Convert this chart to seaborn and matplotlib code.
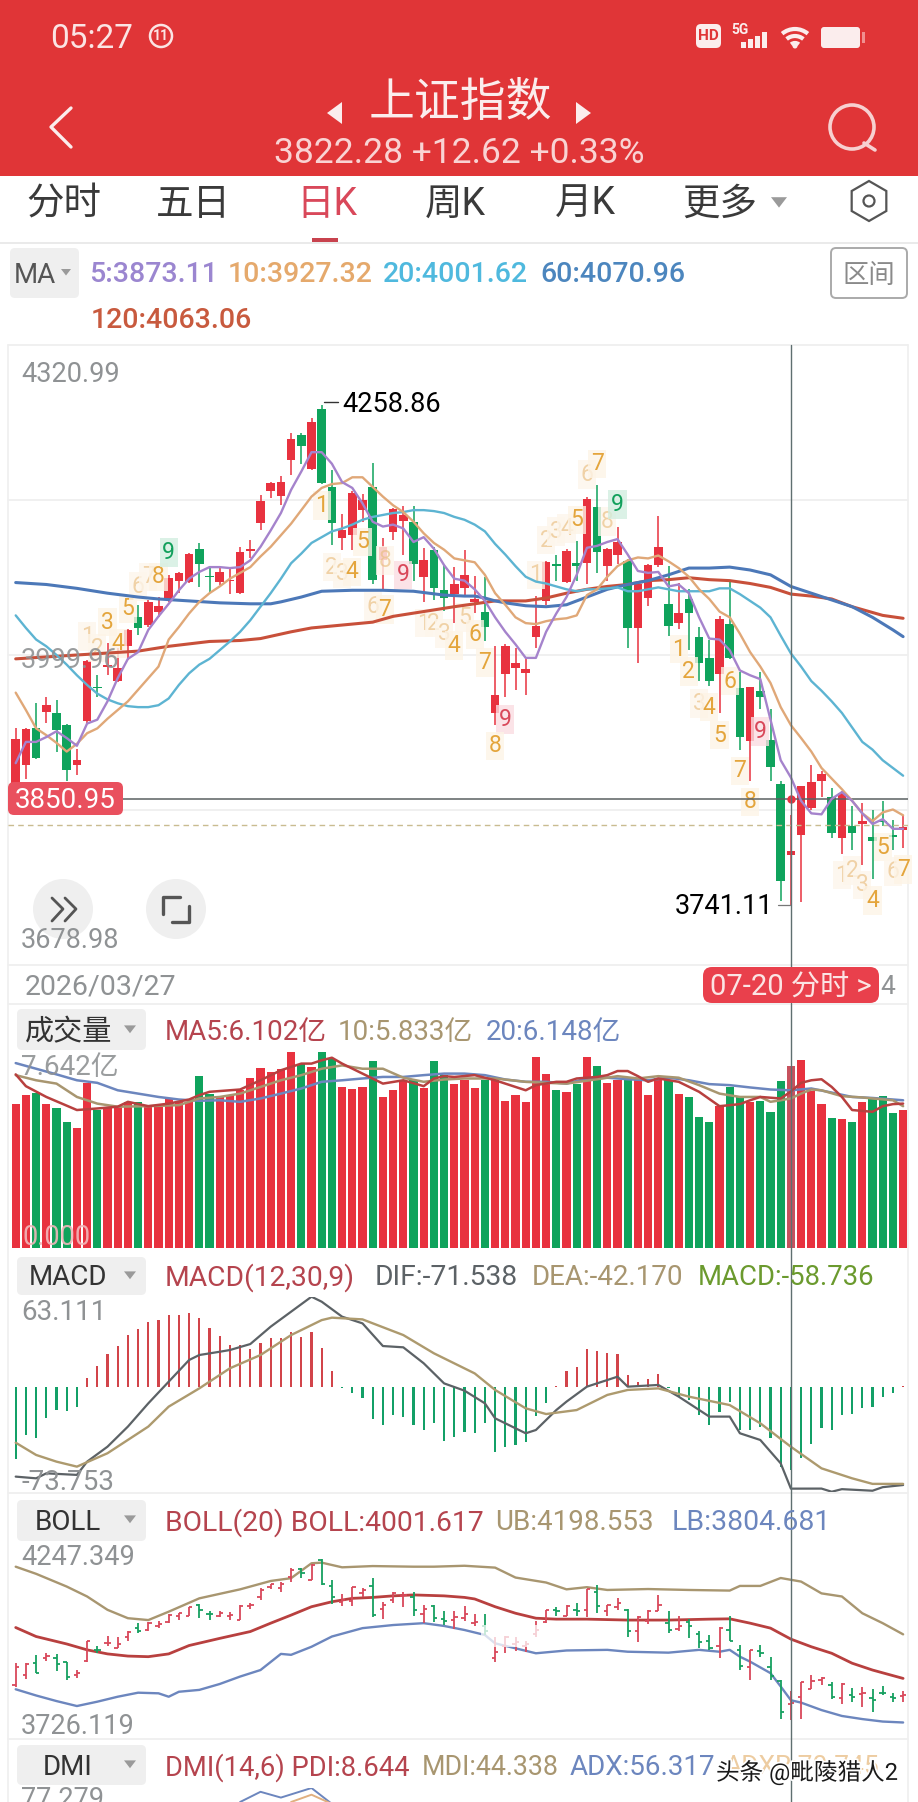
import numpy as np
import pandas as pd
import matplotlib
matplotlib.use("Agg")
import matplotlib.pyplot as plt
import matplotlib.patheffects as pe
from matplotlib.patches import Circle, FancyBboxPatch, Rectangle, Polygon, RegularPolygon, Arc
import seaborn as sns

# daily candles
highs = [3924,3924,3950,3957,3953,3929,3903,3995,3979,4012,4007,4027,4052,4057,4060,4083,4086,4106,4116,4091,4091,4090,
         4112,4119,4166,4179,4185,4230,4230,4245,4258.86,4192,4146,4170,4167,4199,4121,4152,4154,4154,4111,4112,4093,4091,
         4109,4082,4081,4009,4011,4007,3997,4061,4097,4104,4110,4118,4164,4176,4111,4133,4099,4077,4094,4144,4092,4075,
         4068,4029,4016,4040,4077,3982,3967,3982,3944,3870,3834,3864,3886,3880,3862,3859,3844,3847,3840,3849,3829,3834]
lows = [3846,3872,3892,3930,3900,3870,3876,3929,3956,3979,3972,3995,4021,4029,4039,4055,4064,4075,4070,4064,4072,4063,
        4063,4100,4129,4163,4155,4186,4198,4192,4177,4114,4109,4109,4138,4074,4067,4119,4104,4077,4055,4057,4046,4033,
        4060,4043,4014,3927,3956,3964,3959,4007,4052,4077,4075,4077,4073,4085,4077,4094,4007,3992,4051,4091,4020,4027,
        4005,3973,3968,3940,3996,3902,3870,3944,3869,3745,3741.11,3744,3840,3853,3810,3794,3798,3783,3768,3823,3798,3800]
opens = [3853,3886,3924,3941,3940,3927,3886,3932,3967,3988,3973,4009,4039,4031,4045,4057,4077,4076,4110,4082,4076,4077,
         4064,4108,4137,4170,4165,4202,4228,4193,4255,4174,4121,4124,4150,4174,4098,4127,4139,4138,4081,4109,4067,4063,
         4069,4055,4044,3940,3980,3987,3981,4019,4056,4094,4076,4095,4095,4153,4092,4104,4097,4028,4059,4093,4053,4033,
         4058,4019,3997,3980,4032,3966,3911,3963,3912,3866,3793,3814,3842,3870,3853,3811,3823,3825,3812,3828,3814,3819]
closes = [3913,3923,3893,3948,3922,3881,3891,3994,3966,3990,3987,4026,4028,4055,4051,4080,4085,4105,4094,4081,4086,4078,
          4107,4110,4159,4178,4179,4224,4216,4241,4178,4137,4129,4168,4161,4078,4112,4151,4145,4094,4098,4069,4059,4074,
          4083,4058,4029,3959,4009,3992,3986,4030,4096,4092,4108,4092,4162,4107,4110,4117,4028,4073,4093,4112,4030,4043,
          4043,3992,3973,4037,3997,3915,3967,3956,3884,3766,3797,3864,3868,3877,3816,3857,3816,3828,3807,3827,3812,3822.28]
ma5 = [3888,3910,3910,3915,3921,3914,3906,3929,3933,3952,3976,3996,4003,4026,4040,4053,4067,4079,4086,4091,4091,4090,
       4091,4098,4112,4129,4147,4171,4190,4210,4210,4198,4179,4173,4157,4138,4133,4135,4131,4117,4122,4110,4093,4079,
       4077,4068,4056,4039,4024,4011,3997,3997,4024,4043,4060,4083,4111,4113,4117,4120,4104,4087,4085,4086,4071,4073,
       4064,4039,4017,4016,4005,3984,3979,3975,3933,3891,3873.11,3849,3836,3835,3851,3858,3849,3836,3825,3830,3820,3820]
ma10 = [3961,3943,3924,3917,3909,3900,3908,3919,3924,3934,3943,3952,3964,3976,3988,4016,4029,4043,4055,4064,4071,4079,
        4085,4091,4102,4112,4124,4136,4150,4164,4173,4177,4178,4184,4184,4174,4164,4155,4148,4138,4126,4116,4109,4100,
        4098,4096,4083,4064,4052,4039,4033,4032,4035,4037,4038,4041,4062,4068,4081,4092,4098,4101,4100,4103,4097,4090,
        4081,4068,4058,4045,4039,4022,4003,3988,3971,3946,3927.32,3914,3900,3883,3872,3861,3849,3836,3828,3837,3840,3834]
ma20 = [4041,4028,4016,4009,4000,3990,3979,3969,3960,3954,3950,3947,3946,3946,3948,3955,3969,3981,3990,3996,4005,4014,
        4024,4036,4050,4064,4079,4095,4105,4116,4122,4128,4131,4135,4140,4143,4145,4147,4148,4150,4150,4149,4147,4143,
        4140,4135,4128,4115,4104,4092,4081,4076,4074,4071,4068,4066,4068,4068,4069,4070,4066,4066,4068,4070,4068,4066,
        4066,4066,4066,4069,4069,4063,4056,4049,4039,4020,4001.62,3988,3973,3963,3952,3940,3925,3910,3902,3891,3883,3875]
ma60_x = [0,3,6,9,12,14,17,20,23,25,26,28,30,33,36,39,42,44,45,46,47,48,50,52,54,56,58,60,62,64,66,68,70,72,74,76,78,80,82,84,86,87]
ma60 = [4075,4073,4069,4064,4060,4058,4056,4054,4053,4053,4055,4060,4066,4067,4067,4066,4062,4061,4061,4059,4056,4054,4051,4050,
        4052,4060,4068,4073,4077,4083,4090,4090,4091,4088,4083,4070.96,4064,4057,4050,4039,4026,4019]
ma120_x = [0,6,12,15,19,22,24,27,29,33,35,37,40,43,47,50,52,54,56,58,60,62,64,66,68,70,72,74,76,78,80,82,84,85,87]
ma120 = [3996,4000,4004,4009,4014,4015,4017,4024,4028,4032,4034,4040,4045,4050,4056,4056,4059,4064,4068,4071,4073,4077,4078,4080,
         4078,4077,4074,4070,4063.06,4061,4058,4050,4044,4041,4038]

# TD sequence digits: o = orange, f = faded orange, g = green nine, r = red nine
td_idx = [7,8,9,10,11,12,13,14,15,30,31,32,33,34,36.2,38,35,36.2,40,41,42,43,
          44,45,46,48,47,51,52,53,54,55,56,57,58,59,65,66,67,68,69,70,71,72,73,81,82,83,84,85,86,87]
td_price = [4019,4007,4034,4012,4048,4071,4081,4081,4106,4155,4091,4084,4086,4117,4098,4083,4050,4047,4033,4033,4022,4010,
            4039,4021,3992,3933,3906,4083,4119,4128,4131,4140,4187,4198,4138,4156,4006,3983,3950,3946,3917,3973,3880,3848,3921,
            3772,3777,3762,3746,3801,3776,3778]
td_text = "123456789" + "123458967" + "1234" + "56798" + "123456789" + "123456789" + "1234567"
td_kind = "ffoooffog" + "offoofrfo" + "fffo" + "foor" + "o" + "ffffofofg" + "oofooooor" + "fffoofo"

# volume, 100 million
volumes = [5.60,5.96,6.05,5.63,5.44,4.90,4.69,6.44,5.38,5.48,5.48,5.70,5.70,5.51,5.48,5.85,5.70,5.70,6.71,6.00,5.89,5.96,
           6.15,6.61,7.02,6.87,6.99,7.642,7.16,7.06,7.642,7.38,6.26,6.19,6.26,7.29,5.89,6.18,6.57,6.54,6.22,7.29,6.74,6.41,
           6.54,6.22,6.54,6.54,5.74,5.96,5.70,7.45,6.77,6.18,6.09,6.41,7.45,7.10,6.44,6.54,6.61,6.54,5.96,6.61,6.54,6.02,
           5.89,5.12,4.92,5.53,6.28,5.87,5.70,5.74,5.31,6.52,7.10,7.32,6.13,5.63,5.05,5.03,4.92,5.70,5.89,5.93,5.25,5.40]
vol_ma5_x = [0,1,3,6,8,10,11,13,15,17,18,19,21,22,24,26,28,29,30,31,32,34,36,38,40,41,42,43,45,47,48,50,51,53,54,55,57,58,59,60,61,
             62,63,65,67,69,71,72,73,75,76,77,78,79,80,81,82,84,85,86,87]
vol_ma5 = [6.77,6.31,5.89,5.38,5.44,5.51,5.70,5.53,5.63,5.79,5.96,6.09,6.15,6.18,6.54,6.93,7.19,7.19,7.32,7.42,7.19,6.80,6.41,6.54,
           6.31,6.61,6.70,6.67,6.74,6.54,6.41,6.15,6.35,6.48,6.48,6.61,6.67,6.74,6.90,6.90,6.70,6.48,6.61,6.48,6.09,5.53,5.61,5.76,
           5.89,5.83,6.102,6.44,6.54,6.58,6.28,5.89,5.38,5.31,5.53,5.61,5.63]
vol_ma10_x = [0,2,4,6,8,10,13,16,18,20,22,24,26,28,30,32,34,36,38,40,42,44,47,50,52,54,57,59,61,63,65,67,69,71,73,74,75,76,77,78,79,81,83,84,86,87]
vol_ma10 = [6.74,6.54,6.41,5.89,5.63,5.51,5.53,5.57,5.83,5.89,6.02,6.28,6.54,6.74,6.99,7.12,6.99,6.99,6.64,6.48,6.57,6.61,6.61,6.48,
            6.44,6.41,6.58,6.70,6.61,6.70,6.64,6.35,6.02,5.89,5.89,5.70,5.76,5.833,6.02,6.18,6.15,5.92,5.87,5.83,5.76,5.53]
vol_ma20_x = list(range(0,87,2)) + [87]
vol_ma20 = [7.21,6.99,6.77,6.54,6.44,6.15,6.02,5.89,5.79,5.74,5.76,5.70,5.83,6.02,6.22,6.48,6.54,6.61,6.67,6.67,6.74,6.80,6.80,6.74,6.57,
            6.48,6.48,6.41,6.61,6.64,6.58,6.54,6.64,6.54,6.39,6.35,6.26,6.18,6.148,6.22,6.06,5.89,5.85,5.79,5.76]

macd_hist = [-50.9,-33.9,-36.2,-22.2,-16.4,-16.8,-14.0,5.8,14.5,22.9,28.5,36.2,40.4,45.1,46.7,50.2,50.2,51.9,47.9,40.9,35.5,29.2,
             29.2,26.2,30.4,33.9,34.4,38.6,34.6,38.6,27.3,11.2,-1.2,-4.7,-8.2,-22.9,-26.9,-19.9,-21.5,-26.9,-30.4,-25.7,-38.1,-35.1,
             -31.5,-32.3,-25.7,-46.0,-42.1,-40.9,-38.6,-20.6,-11.2,0.7,11.2,14.0,26.4,25.0,23.8,22.9,8.2,3.5,5.1,8.9,-1.2,-7.5,
             -9.3,-19.9,-26.9,-17.5,-10.5,-30.4,-30.4,-28.0,-36.2,-56.1,-58.736,-50.2,-40.2,-29.2,-30.4,-19.9,-19.2,-15.2,-14.0,-7.5,-4.7,0.5]
dif_x = [0,2,3,6,7,9,11,13,15,17,18,20,21,23,25,27,29,30,32,34,36,38,40,42,44,46,47,50,51,53,54,56,59,60,63,65,68,70,71,73,75,76,79,80,81,84,85,87]
dif = [-63.1,-64.3,-60.8,-61.9,-52.6,-42.1,-28.0,-11.7,3.5,18.7,22.2,24.5,25.7,29.9,42.1,52.6,63.1,59.6,49.1,44.4,28.5,27.6,16.4,2.3,
       -2.8,-11.7,-22.2,-32.7,-30.4,-16.4,-10.5,0,7.0,0,1.2,-7.0,-21.0,-21.0,-32.7,-37.4,-53.8,-71.538,-71.5,-73.7,-71.9,-73.0,-70.5,-69.0]
dea_x = [0,2,4,6,9,13,15,18,21,24,27,30,31,34,38,41,45,47,50,52,55,58,60,63,66,70,73,76,79,82,84,87]
dea = [-39.3,-47.9,-52.6,-56.1,-46.7,-28.0,-14.0,-1.2,12.9,22.2,36.2,46.7,48.4,47.2,36.2,23.4,9.3,-2.3,-15.2,-19.2,-16.4,-5.8,-2.3,-1.2,
       -7.0,-12.9,-25.7,-42.17,-57.3,-64.3,-68.2,-68.2]

ub_x = [0,2,5,7,9,11,13,15,18,22,25,27,29,30,32,35,39,41,44,47,49,52,54,56,58,62,66,70,71,73,75,77,79,81,83,85,87]
ub = [4235,4212,4171,4139,4096,4069,4063,4090,4133,4162,4189,4198,4246,4248,4233,4237,4235,4235,4238,4232,4200,4184,4162,4169,4160,
      4163,4160,4158,4173,4173,4198.55,4187,4149,4139,4085,4053,4017]
mid_x = [0,2,5,7,9,11,13,15,17,20,23,25,27,29,31,33,35,37,39,42,44,45,47,49,51,53,56,60,64,68,70,72,74,76,78,80,82,84,87]
mid = [4039,4010,3986,3967,3954,3947,3945,3954,3981,4004,4026,4053,4079,4106,4122,4133,4136,4141,4144,4141,4136,4131,4106,4085,4069,
       4066,4066,4063,4063,4066,4067,4053,4037,4001.6,3977,3956,3924,3902,3875]
lb_x = [0,2,4,6,8,10,12,14,15,16,18,20,22,24,26,27,29,31,34,37,40,42,44,46,47,49,51,54,58,60,64,67,69,70,71,72,74,75,76,77,79,81,83,85,87]
lb = [3840,3820,3802,3786,3800,3816,3829,3827,3816,3832,3838,3857,3881,3902,3954,3951,3977,4010,4037,4047,4053,4044,4031,4015,3988,
      3972,3956,3965,3967,3961,3958,3967,3961,3967,3945,3929,3892,3849,3804.68,3797,3773,3754,3744,3736,3733]

adx_x = [22,24,26,29,31]
adx = [70.0,75.3,72.3,77.279,69.0]
mdi_x = [27,29,31]
mdi = [70.0,73.8,69.0]

tabs = ["分时", "五日", "日K", "周K", "月K", "更多"]
tab_x = [64, 193, 327, 455, 585, 720]

W, H = 918, 1802
RED = "#E8323F"
GREEN = "#0FA35C"
HEAD = "#E03537"
GRAY = "#8F9294"
RED_T = "#B5444E"
TAN_T = "#A89670"
BLUE_T = "#6C86BE"

sns.set_theme(style="white")
plt.rcParams["font.family"] = ["Roboto", "Noto Sans CJK SC", "DejaVu Sans"]
fig = plt.figure(figsize=(W / 100, H / 100), dpi=100, facecolor="white")

idx = np.arange(len(closes))
up = np.array(closes) >= np.array(opens)
direction = ["up" if u else "down" for u in up]
bar_colors = {"up": RED, "down": GREEN}
XLIM = (-0.755, 87.48)


def panel(top, bottom):
    ax = fig.add_axes([8 / W, 1 - bottom / H, 900 / W, (bottom - top) / H], zorder=2)
    ax.patch.set_alpha(0)
    ax.grid(False)
    return ax


def finish(ax, ylim):
    ax.set_xlim(*XLIM)
    ax.set_ylim(*ylim)
    ax.axis("off")


def line(ax, x, y, color, lw=1.5, z=4):
    sns.lineplot(x=x, y=y, ax=ax, color=color, linewidth=lw, zorder=z, errorbar=None, legend=False)


# price panel
ax = panel(345, 965)
ax.vlines(idx, lows, highs, colors=[RED if u else GREEN for u in up], lw=1.1, zorder=2)
ax.bar(idx, np.abs(np.array(closes) - np.array(opens)), bottom=np.minimum(opens, closes), width=0.84,
       color=[RED if u else GREEN for u in up], linewidth=0, zorder=3)
for i, p, s, k in zip(td_idx, td_price, td_text, td_kind):
    col = {"o": "#E4A53C", "f": "#E9BE80", "g": "#12A05C", "r": "#D9485A"}[k]
    box = {"o": "#FDF4E6", "f": "#FDF6EC", "g": "#D3EEE0", "r": "#FADDE1"}[k]
    ax.text(i, p, s, color=col, fontsize=16.5, ha="center", va="center", zorder=3.5,
            bbox=dict(boxstyle="square,pad=0.12", facecolor=box, edgecolor="none", alpha=0.8),
            alpha=0.65 if k == "f" else 1)
line(ax, ma120_x, ma120, "#C8503A", 2.2, 5)
line(ax, ma60_x, ma60, "#4C78B8", 2.2, 5)
line(ax, list(idx), ma20, "#5DB4D2", 1.7, 6)
line(ax, list(idx), ma10, "#E0A878", 1.7, 6)
line(ax, list(idx), ma5, "#A583CC", 1.7, 7)
ax.axhline(3824, color="#C9BC90", lw=1, ls=(0, (4, 3)), zorder=5)
ax.axhline(3850.95, color="#5A6062", lw=1.1, zorder=5)
ax.plot([76], [3850.95], "o", color=RED, ms=5, zorder=8)
finish(ax, (3678.98, 4320.99))

# volume panel
ax = panel(1010, 1248)
df_vol = pd.DataFrame({"i": idx, "v": volumes, "d": direction})
sns.barplot(data=df_vol, x="i", y="v", hue="d", palette=bar_colors, native_scale=True, dodge=False, width=0.82,
            saturation=1, errorbar=None, legend=False, linewidth=0, ax=ax)
ax.bar([76], [volumes[76]], width=0.82, color="#8A8F99", alpha=0.35, linewidth=0, zorder=3)
line(ax, vol_ma20_x, vol_ma20, "#6C86BE", 1.8)
line(ax, vol_ma10_x, vol_ma10, "#A89670", 1.8)
line(ax, vol_ma5_x, vol_ma5, "#B8403F", 1.8)
finish(ax, (0, 9.28))

# macd panel
ax = panel(1296.7, 1491.8)
df_macd = pd.DataFrame({"i": idx, "v": macd_hist, "d": ["up" if v > 0 else "down" for v in macd_hist]})
sns.barplot(data=df_macd, x="i", y="v", hue="d", palette={"up": "#D2444A", "down": "#13A067"}, native_scale=True, dodge=False,
            width=0.2, saturation=1, errorbar=None, legend=False, linewidth=0, ax=ax)
line(ax, dif_x, dif, "#5C6266", 1.6)
line(ax, dea_x, dea, "#AD9A6E", 1.7)
finish(ax, (-73.753, 63.111))

# boll panel, price drawn as open/close bars
ax = panel(1540, 1738)
bar_cols = ["#D9485A" if u else "#16A060" for u in up]
line(ax, ub_x, ub, "#A89670", 1.7, 2)
line(ax, mid_x, mid, "#B8403F", 2.0, 2)
line(ax, lb_x, lb, "#6C86BE", 1.7, 2)
ax.vlines(idx, lows, highs, colors=bar_cols, lw=1.3, zorder=4)
ax.hlines(opens, idx - 0.33, idx, colors=bar_cols, lw=1.3, zorder=4)
ax.hlines(closes, idx, idx + 0.33, colors=bar_cols, lw=1.3, zorder=4)
finish(ax, (3683, 4321))

# dmi panel, only its first rows are on screen
ax = panel(1788, 1802)
line(ax, adx_x, adx, "#6C86BE", 1.4)
line(ax, mdi_x, mdi, "#E0B080", 1.4)
finish(ax, (70, 77.279))

# page furniture in pixel coordinates
bg = fig.add_axes([0, 0, 1, 1], zorder=1)
bg.set_xlim(0, W)
bg.set_ylim(H, 0)
bg.axis("off")
for y in [345, 500, 655, 810, 965, 1004, 1493, 1739]:
    bg.plot([8, 908], [y, y], color="#EDEDED", lw=1.2)
for x in [8, 908]:
    bg.plot([x, x], [345, H], color="#EFEFEF", lw=1.2)
bg.plot([0, W], [243, 243], color="#E6E6E6", lw=1.2)

ov = fig.add_axes([0, 0, 1, 1], zorder=5)
ov.patch.set_alpha(0)
ov.set_xlim(0, W)
ov.set_ylim(H, 0)
ov.axis("off")


def t(x, y, s, color="#333333", size=20, ha="left", **kw):
    # va=center sits a little high next to the reference
    return ov.text(x, y + 4.5, s, color=color, fontsize=size, ha=ha, va="center", **kw)


def rbox(x0, y0, x1, y1, fc, ec="none", r=5, lw=1, z=1, alpha=1):
    ov.add_patch(FancyBboxPatch((x0 + r, y0 + r), x1 - x0 - 2 * r, y1 - y0 - 2 * r, boxstyle=f"round,pad={r}", fc=fc, ec=ec, lw=lw,
                                zorder=z, alpha=alpha))


def tri(x, y, color="#9A9A9A", s=6):
    ov.add_patch(Polygon([(x - s, y - s * 0.6), (x + s, y - s * 0.6), (x, y + s * 0.7)], fc=color, ec="none", zorder=3))


ov.add_patch(Rectangle((0, 0), W, 176, fc=HEAD, ec="none", zorder=1))
t(50, 35, "05:27", "#FBE4E4", 24, zorder=3)
ov.add_patch(Circle((161, 36), 11, fc="none", ec="#FBE4E4", lw=1.8, zorder=3))
t(161, 31.5, "11", "#FBE4E4", 10, ha="center", fontweight="bold", zorder=3)
rbox(696, 24, 721, 48, "#FBEDED", z=3)
t(708.5, 31.5, "HD", HEAD, 11, ha="center", fontweight="bold", zorder=4)
t(731, 25, "5G", "#FBEDED", 10, fontweight="bold", zorder=3)
for i, h in enumerate([6, 9, 12, 16]):
    ov.add_patch(Rectangle((741 + i * 7, 48 - h), 4.5, h, fc="#FBEDED", ec="none", zorder=3))
for r in [6, 13, 20]:
    ov.add_patch(Arc((795, 49), 2 * r, 2 * r, theta1=230, theta2=310, color="#FBEDED", lw=3, zorder=3))
ov.add_patch(Circle((795, 46), 2.5, fc="#FBEDED", ec="none", zorder=3))
rbox(821, 27, 860, 48, "#FBEDED", r=3, z=3)
ov.add_patch(Rectangle((862, 32), 3, 11, fc="#F09090", ec="none", zorder=3))
t(460, 98, "上证指数", "#FBEDED", 33, ha="center", zorder=3)
ov.add_patch(Polygon([(342, 102), (342, 124), (327, 113)], fc="#FBEDED", ec="none", zorder=3))
ov.add_patch(Polygon([(576, 102), (576, 124), (591, 113)], fc="#FBEDED", ec="none", zorder=3))
t(459, 149, "3822.28 +12.62 +0.33%", "#F9D3D3", 25.5, ha="center", zorder=3)
ov.plot([71, 51, 71], [108, 127, 147], color="#FBEDED", lw=2.4, zorder=3)
ov.add_patch(Circle((852, 127), 22, fc="none", ec="#F7D0D0", lw=2.6, zorder=3))
ov.plot([864, 875], [143, 150], color="#F7D0D0", lw=2.6, zorder=3)

for x, s in zip(tab_x, tabs):
    t(x, 199.5, s, "#D9485A" if s == "日K" else "#3A3A3A", 27, ha="center")
tri(779, 202, "#9A9A9A", 8)
ov.add_patch(RegularPolygon((869, 201), 6, radius=20, fc="none", ec="#555555", lw=1.6))
ov.add_patch(Circle((869, 201), 5.5, fc="none", ec="#555555", lw=1.6))
ov.add_patch(Rectangle((312, 238), 26, 4, fc="#C8424E", ec="none", zorder=3))

rbox(10, 248, 79, 298, "#EFEFEF")
t(14, 271, "MA", "#555555", 20, zorder=3)
tri(66, 272, "#9A9A9A", 5)
t(89, 270.5, "5:3873.11", "#9B86D0", 20.5, fontweight="medium")
t(228, 270.5, "10:3927.32", "#E5A96C", 20.5, fontweight="medium")
t(383, 270.5, "20:4001.62", "#4FB9DE", 20.5, fontweight="medium")
t(540, 270.5, "60:4070.96", "#4C86BE", 20.5, fontweight="medium")
t(91, 316.5, "120:4063.06", "#C85A3E", 20.5, fontweight="medium")
rbox(831, 248, 907, 298, "white", ec="#AAAAAA", lw=1.4)
t(869, 271, "区间", "#8A8A8A", 19, ha="center", zorder=3)

# crosshair
ov.plot([790.9, 790.9], [345, 967], color="#5F6F70", lw=1, zorder=2)
ov.plot([790.9, 790.9], [1003, H], color="#5F6F70", lw=1, zorder=2)

t(21, 370.5, "4320.99", GRAY, 19.5)
t(21, 656.5, "3999.96", GRAY, 19.5, alpha=0.9, zorder=4)
t(21, 936.5, "3678.98", GRAY, 19.5, zorder=4)
ov.plot([324, 338], [402, 402], color="#333333", lw=1)
t(342, 399.5, "4258.86", "black", 19.5, zorder=4)
t(773, 902.5, "3741.11", "black", 19.5, ha="right", zorder=4)
ov.plot([778, 790], [905, 905], color="#777777", lw=0.9)
rbox(8, 782, 123, 815, "#E9505E", r=6, z=3)
t(65.5, 796, "3850.95", "white", 20, ha="center", zorder=4)
ov.add_patch(Circle((63, 909), 30, fc="#EFEFEF", ec="none", zorder=2))
ov.plot([52, 63, 52], [898, 909, 921], color="#555555", lw=2, zorder=3)
ov.plot([65, 76, 65], [898, 909, 921], color="#555555", lw=2, zorder=3)
ov.add_patch(Circle((176, 909), 30, fc="#EFEFEF", ec="none", zorder=2))
ov.plot([163, 163, 180], [914, 897, 897], color="#555555", lw=2.4, zorder=3)
ov.plot([172, 189, 189], [922, 922, 906], color="#555555", lw=2.4, zorder=3)
t(25, 983, "2026/03/27", GRAY, 20.5)
rbox(703, 967, 879, 1003, "#E9404C", r=9, z=3)
t(791, 982.5, "07-20 分时 >", "#FBE4E4", 21, ha="center", zorder=4)
t(880, 983, "4", GRAY, 19, zorder=2)

# panel headers
rbox(17, 1009, 146, 1050, "#EFEFEF")
t(25, 1028, "成交量", "#333333", 21, zorder=3)
tri(130, 1029)
t(165, 1028, "MA5:6.102亿", RED_T, 20)
t(338, 1028, "10:5.833亿", TAN_T, 20)
t(486, 1028, "20:6.148亿", BLUE_T, 20)
t(21, 1063, "7.642亿", GRAY, 20, alpha=0.9, zorder=4)
t(22, 1233, "0.000", "#F2B8BC", 19.5, alpha=0.9, zorder=4)

rbox(17, 1257, 146, 1295, "#EFEFEF")
t(68, 1273, "MACD", "#333333", 20, ha="center", zorder=3)
tri(130, 1275)
t(165, 1273, "MACD(12,30,9)", RED_T, 20.3)
t(375, 1273, "DIF:-71.538", "#5C6266", 20.3)
t(532, 1273, "DEA:-42.170", TAN_T, 20)
t(698, 1273, "MACD:-58.736", "#6B9A2E", 19.8)
t(21, 1308, "63.111", GRAY, 20, zorder=4)
t(21, 1478, "-73.753", GRAY, 20, zorder=4)

rbox(17, 1500, 146, 1541, "#EFEFEF")
t(68, 1518, "BOLL", "#333333", 20, ha="center", zorder=3)
tri(130, 1519)
t(165, 1518, "BOLL(20) BOLL:4001.617", RED_T, 20.3)
t(495, 1518, "UB:4198.553", TAN_T, 20)
t(672, 1518, "LB:3804.681", BLUE_T, 20.4)
t(21, 1553, "4247.349", GRAY, 19.5, zorder=4)
t(21, 1722, "3726.119", GRAY, 19.5, zorder=4)
ov.add_patch(Rectangle((481, 1625), 60, 22, fc="white", ec="none", alpha=0.75, zorder=3))

rbox(17, 1745, 146, 1785, "#EFEFEF")
t(68, 1763, "DMI", "#333333", 20, ha="center", zorder=3)
tri(130, 1764)
t(165, 1763, "DMI(14,6) PDI:8.644", RED_T, 19.7)
t(422, 1763, "MDI:44.338", TAN_T, 19.3)
t(570, 1763, "ADX:56.317", BLUE_T, 20)
t(725, 1763, "ADXR:70.745", "#E9C08A", 19, alpha=0.8)
t(21, 1795, "77.279", GRAY, 19.5, zorder=4)
t(716, 1768, "头条 @毗陵猎人2", "#1A1A1A", 17, zorder=6, path_effects=[pe.withStroke(linewidth=2.5, foreground="white")])

fig.savefig("out.png", dpi=100)
